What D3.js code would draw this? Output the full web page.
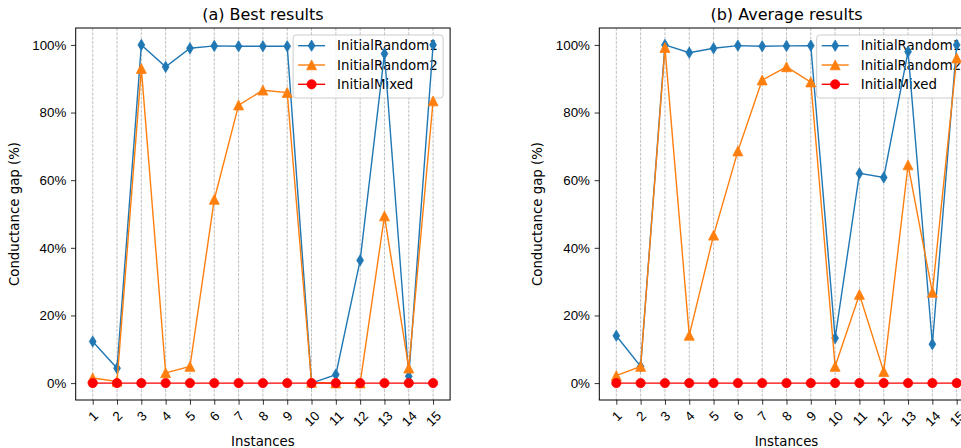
<!DOCTYPE html>
<html>
<head>
<meta charset="utf-8">
<script src="https://cdn.jsdelivr.net/npm/d3@7"></script>
<style>
  body { margin: 0; background: #fff; }
  svg { display: block; font-family: "DejaVu Sans", sans-serif; }
</style>
</head>
<body>
<script>
// instances on the x axis
var instances = [1, 2, 3, 4, 5, 6, 7, 8, 9, 10, 11, 12, 13, 14, 15];
var yTicks = [0, 20, 40, 60, 80, 100];
var seriesNames = ["InitialRandom1", "InitialRandom2", "InitialMixed"];

// (a) best results, conductance gap in %
var bestRandom1 = [12.3, 4.4, 100, 93.5, 99.0, 99.7, 99.6, 99.6, 99.6, 0, 2.5, 36.3, 97.4, 2.0, 100];
var bestRandom2 = [1.5, 0.5, 93.0, 3.0, 4.9, 54.3, 82.2, 86.6, 85.9, 0.2, 0, 0, 49.4, 4.4, 83.4];
var bestMixed   = [0, 0, 0, 0, 0, 0, 0, 0, 0, 0, 0, 0, 0, 0, 0];

// (b) average results
var avgRandom1 = [14.0, 4.9, 100, 97.7, 99.0, 99.8, 99.6, 99.7, 99.8, 13.3, 62.0, 60.8, 98.0, 11.5, 100];
var avgRandom2 = [2.2, 4.9, 99.2, 14.1, 43.7, 68.6, 89.6, 93.5, 89.0, 4.9, 26.2, 3.4, 64.5, 26.8, 96.1];
var avgMixed   = [0, 0, 0, 0, 0, 0, 0, 0, 0, 0, 0, 0, 0, 0, 0];

var colors = ["#1f77b4", "#ff7f0e", "#ff0000"];
var shapes = ["diamond", "triangle", "circle"];
var fs = 13.33;

var svg = d3.select("body").append("svg").attr("width", 961).attr("height", 448);

function markerPath(kind) {
  if (kind === "diamond") return "M0,-5.6L3.4,0L0,5.6L-3.4,0Z";
  if (kind === "triangle") return "M0,-5L5,4.8L-5,4.8Z";
  return null;
}

function drawMarker(sel, kind, color) {
  if (kind === "circle") {
    sel.append("circle").attr("r", 4.6).attr("fill", color)
      .attr("stroke", color).attr("stroke-width", 0.8);
  } else {
    sel.append("path").attr("d", markerPath(kind)).attr("fill", color)
      .attr("stroke", color).attr("stroke-width", 0.8).attr("stroke-linejoin", "miter");
  }
}

function drawPanel(left, title, series) {
  var top = 28, bottom = 400, right = left + 374.4;
  var x = d3.scaleLinear().domain([0.3, 15.7]).range([left, right]);
  var y = d3.scaleLinear().domain([-5, 105]).range([bottom, top]);
  var g = svg.append("g");

  // vertical dashed grid
  g.selectAll(".grid").data(instances).enter().append("line")
    .attr("x1", d => x(d)).attr("x2", d => x(d))
    .attr("y1", top).attr("y2", bottom)
    .attr("stroke", "#b0b0b0").attr("stroke-width", 0.8)
    .attr("stroke-dasharray", "3,1.3");

  // legend, upper right (sits under the data marks)
  var lx = right - 157, ly = 35;
  var leg = g.append("g").attr("transform", "translate(" + lx + "," + ly + ")");
  leg.append("rect").attr("width", 150).attr("height", 63).attr("rx", 3)
    .attr("fill", "#fff").attr("fill-opacity", 0.8)
    .attr("stroke", "#cccccc").attr("stroke-width", 1);
  seriesNames.forEach(function (name, i) {
    var ry = 10.7 + i * 19.3;
    leg.append("line").attr("x1", 5).attr("x2", 32).attr("y1", ry).attr("y2", ry)
      .attr("stroke", colors[i]).attr("stroke-width", 1.4);
    drawMarker(leg.append("g").attr("transform", "translate(18.5," + ry + ")"), shapes[i], colors[i]);
    leg.append("text").attr("x", 44).attr("y", ry).attr("dominant-baseline", "central")
      .attr("font-size", fs).text(name);
  });

  // lines + markers
  series.forEach(function (vals, i) {
    var line = d3.line().x((d, j) => x(instances[j])).y(d => y(d));
    g.append("path").datum(vals).attr("d", line)
      .attr("fill", "none").attr("stroke", colors[i]).attr("stroke-width", 1.4);
    vals.forEach(function (v, j) {
      var m = g.append("g").attr("transform", "translate(" + x(instances[j]) + "," + y(v) + ")");
      drawMarker(m, shapes[i], colors[i]);
    });
  });

  // axes
  var xAxis = g.append("g").attr("transform", "translate(0," + bottom + ")")
    .call(d3.axisBottom(x).tickValues(instances).tickSize(4.7).tickPadding(4.7));
  xAxis.select(".domain").remove();
  xAxis.selectAll(".tick line").attr("stroke", "#000").attr("stroke-width", 0.8);
  xAxis.selectAll(".tick text")
    .attr("font-size", fs).attr("fill", "#000")
    .attr("y", 0).attr("dy", null)
    .attr("text-anchor", "middle").attr("dominant-baseline", "central")
    .each(function () {
      var w = this.getComputedTextLength();
      var cy = 9.4 + (w + 12) * 0.7071 / 2;
      d3.select(this).attr("transform", "translate(0," + cy + ") rotate(-45)");
    });

  var yAxis = g.append("g").attr("transform", "translate(" + left + ",0)")
    .call(d3.axisLeft(y).tickValues(yTicks).tickFormat(d => d + "%").tickSize(4.7).tickPadding(4.7));
  yAxis.select(".domain").remove();
  yAxis.selectAll(".tick line").attr("stroke", "#000").attr("stroke-width", 0.8);
  yAxis.selectAll(".tick text").attr("font-size", fs).attr("fill", "#000");

  // frame
  g.append("rect").attr("x", left).attr("y", top)
    .attr("width", right - left).attr("height", bottom - top)
    .attr("fill", "none").attr("stroke", "#000").attr("stroke-width", 1);

  // labels
  var cx = (left + right) / 2;
  g.append("text").attr("x", cx).attr("y", 20).attr("text-anchor", "middle")
    .attr("font-size", 16).text(title);
  g.append("text").attr("x", cx).attr("y", 446).attr("text-anchor", "middle")
    .attr("font-size", fs).text("Instances");
  g.append("text").attr("transform", "translate(" + (left - 57.2) + "," + ((top + bottom) / 2) + ") rotate(-90)")
    .attr("text-anchor", "middle").attr("font-size", fs).text("Conductance gap (%)");
}

drawPanel(75.7, "(a) Best results", [bestRandom1, bestRandom2, bestMixed]);
drawPanel(599.3, "(b) Average results", [avgRandom1, avgRandom2, avgMixed]);
</script>
</body>
</html>
